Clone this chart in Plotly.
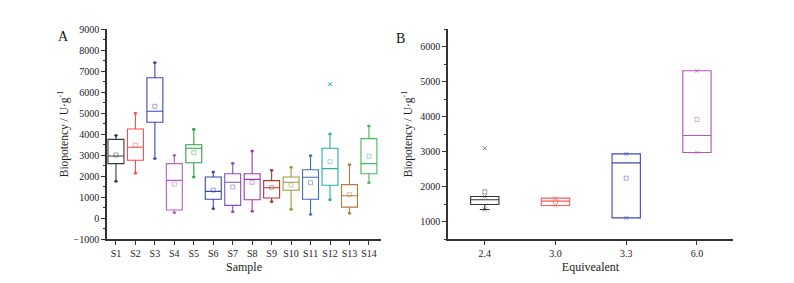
import plotly.graph_objects as go

# ---------------- Panel A data ----------------
samples = ["S1","S2","S3","S4","S5","S6","S7","S8","S9","S10","S11","S12","S13","S14"]
a_min    = [1746, 2130, 2830, 250, 1950, 440, 300, 320, 780, 410, 170, 870, 220, 1680]
a_q1     = [2587, 2750, 4560, 380, 2630, 890, 600, 870, 950, 1320, 890, 1560, 520, 2110]
a_median = [2952, 3370, 5080, 1790, 3320, 1270, 1700, 1840, 1440, 1700, 1940, 2350, 1060, 2590]
a_q3     = [3746, 4240, 6680, 2590, 3490, 1950, 2110, 2110, 1780, 1950, 2300, 3320, 1590, 3780]
a_max    = [3930, 4990, 7400, 2980, 4220, 2190, 2600, 3190, 2270, 2410, 2970, 4000, 2540, 4380]
a_mean   = [3000, 3460, 5320, 1620, 3110, 1330, 1480, 1700, 1460, 1570, 1680, 2680, 1110, 2940]
a_outlier_x = ["S12"]
a_outlier_y = [6370]
a_colors = ["#3a3a3a", "#ff4a4a", "#3b47b8", "#b85cc8", "#2f9e45", "#3947a8", "#8a4cc0",
            "#9a3aae", "#a83a2c", "#9a9a3a", "#4070b8", "#2aabb0", "#b8783e", "#45bb5a"]

# ---------------- Panel B data ----------------
equiv    = ["2.4", "3.0", "3.3", "6.0"]
b_min    = [1343, 1457, 1105, 2971]
b_q1     = [1486, 1457, 1105, 2971]
b_median = [1620, 1581, 2676, 3457]
b_q3     = [1714, 1667, 2933, 5306]
b_max    = [1714, 1667, 2933, 5306]
b_mean   = [1848, 1560, 2238, 3914]
b_outlier_x = ["2.4"]
b_outlier_y = [3095]
b_colors = ["#333333", "#ff5a5a", "#3b47b8", "#bb4fbb"]

FONT = "Liberation Serif, Times New Roman, DejaVu Serif, serif"
AX = "#333333"

fig = go.Figure()

# Panel A boxes
for i, s in enumerate(samples):
    c = a_colors[i]
    fig.add_trace(go.Box(
        x=[s], q1=[a_q1[i]], median=[a_median[i]], q3=[a_q3[i]],
        lowerfence=[a_min[i]], upperfence=[a_max[i]],
        width=0.82, whiskerwidth=0.22, boxpoints=False,
        line=dict(color=c, width=1.1), fillcolor="rgba(0,0,0,0)",
        xaxis="x", yaxis="y", showlegend=False, hoverinfo="skip"))
    fig.add_trace(go.Scatter(
        x=[s, s], y=[a_min[i], a_max[i]], mode="markers",
        marker=dict(symbol="square", size=2.5, color=c),
        xaxis="x", yaxis="y", showlegend=False, hoverinfo="skip"))
    fig.add_trace(go.Scatter(
        x=[s], y=[a_mean[i]], mode="markers",
        marker=dict(symbol="square-open", size=4, color=c, line=dict(width=0.8), opacity=0.6),
        xaxis="x", yaxis="y", showlegend=False, hoverinfo="skip"))
fig.add_trace(go.Scatter(
    x=a_outlier_x, y=a_outlier_y, mode="markers",
    marker=dict(symbol="x-thin-open", size=4, color=a_colors[samples.index("S12")], line=dict(width=1)),
    xaxis="x", yaxis="y", showlegend=False, hoverinfo="skip"))

# Panel B boxes
for i, e in enumerate(equiv):
    c = b_colors[i]
    fig.add_trace(go.Box(
        x=[e], q1=[b_q1[i]], median=[b_median[i]], q3=[b_q3[i]],
        lowerfence=[b_min[i]], upperfence=[b_max[i]],
        width=0.4, whiskerwidth=0.35, boxpoints=False,
        line=dict(color=c, width=1.1), fillcolor="rgba(0,0,0,0)",
        xaxis="x2", yaxis="y2", showlegend=False, hoverinfo="skip"))
    fig.add_trace(go.Scatter(
        x=[e, e], y=[b_min[i], b_max[i]], mode="markers",
        marker=dict(symbol="x-thin-open", size=4, color=c, line=dict(width=1), opacity=0.6),
        xaxis="x2", yaxis="y2", showlegend=False, hoverinfo="skip"))
    fig.add_trace(go.Scatter(
        x=[e], y=[b_mean[i]], mode="markers",
        marker=dict(symbol="square-open", size=4, color=c, line=dict(width=0.8), opacity=0.6),
        xaxis="x2", yaxis="y2", showlegend=False, hoverinfo="skip"))
fig.add_trace(go.Scatter(
    x=b_outlier_x, y=b_outlier_y, mode="markers",
    marker=dict(symbol="x-thin-open", size=4, color=b_colors[0], line=dict(width=1), opacity=0.6),
    xaxis="x2", yaxis="y2", showlegend=False, hoverinfo="skip"))

W, H = 794, 283
ydom = [(H - 239) / H, (H - 29) / H]

common_x = dict(showline=True, linecolor=AX, linewidth=1.5, ticks="outside", ticklen=4,
                tickwidth=1, tickcolor=AX, showgrid=False, zeroline=False, type="category",
                tickangle=0,
                tickfont=dict(family=FONT, size=10, color="#222"),
                title_font=dict(family=FONT, size=12, color="#222"), title_standoff=5,
                automargin=False)
common_y = dict(showline=True, linecolor=AX, linewidth=1.5, ticks="outside", ticklen=4,
                tickwidth=1, tickcolor=AX, showgrid=False, zeroline=False,
                tickfont=dict(family=FONT, size=10, color="#222"),
                title_font=dict(family=FONT, size=11.5, color="#222"),
                minor=dict(ticks="outside", ticklen=2, tickcolor=AX, dtick=500, showgrid=False),
                automargin=False)

fig.update_layout(
    width=W, height=H,
    margin=dict(l=0, r=0, t=0, b=0),
    paper_bgcolor="white", plot_bgcolor="white",
    boxmode="overlay",
    xaxis=dict(**common_x, domain=[107 / W, 381 / W], anchor="y", range=[-0.46, 13.62],
               title_text="Sample", categoryorder="array", categoryarray=samples),
    yaxis=dict(**common_y, domain=ydom, anchor="x", range=[-1000, 9000], dtick=1000,
               title_text="Biopotency / U·g<sup>-1</sup>", title_standoff=3),
    xaxis2=dict(**common_x, domain=[448 / W, 733 / W], anchor="y2", range=[-0.52, 3.51],
                title_text="Equivealent", categoryorder="array", categoryarray=equiv),
    yaxis2=dict(**common_y, domain=ydom, anchor="x2", range=[500, 6500], dtick=1000,
                tick0=0, title_text="Biopotency / U·g<sup>-1</sup>", title_standoff=5),
    annotations=[
        dict(text="A", x=56 / W, y=(H - 27) / H, xref="paper", yref="paper",
             showarrow=False, font=dict(family=FONT, size=14, color="#111")),
        dict(text="B", x=400 / W, y=(H - 29) / H, xref="paper", yref="paper",
             showarrow=False, font=dict(family=FONT, size=14, color="#111")),
    ],
)

fig.write_html("out.html", config={"displayModeBar": False},
               post_script="document.body.style.margin='0';")
